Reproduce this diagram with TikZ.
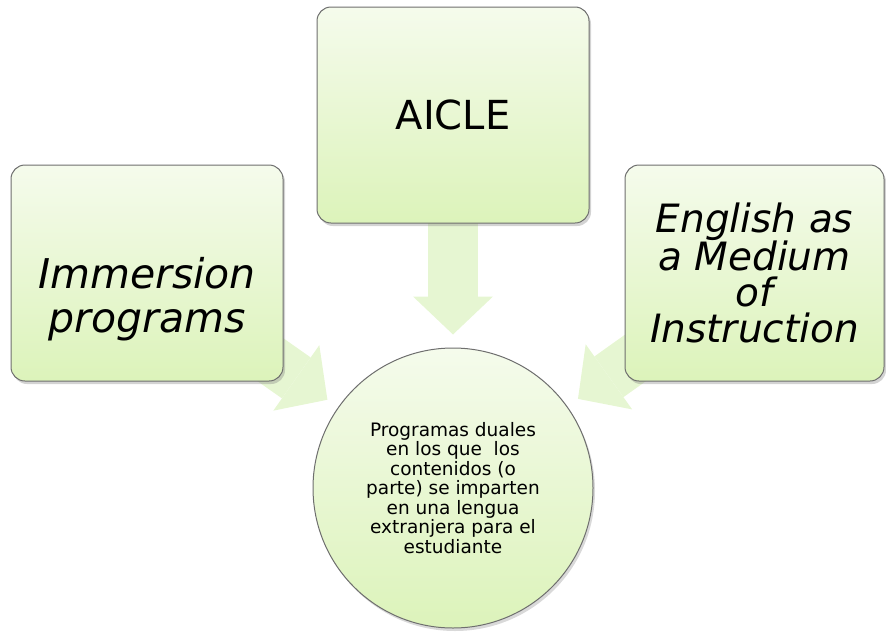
\documentclass[tikz,border=0pt]{standalone}
\usepackage{fontspec}
\setmainfont{DejaVu Sans}
\usetikzlibrary{positioning,shadows,backgrounds,arrows.meta}
\definecolor{boxtop}{RGB}{245,251,236}
\definecolor{boxbottom}{RGB}{220,243,186}
\definecolor{flowfill}{RGB}{230,246,210}
\definecolor{edgegray}{RGB}{110,110,110}
\tikzset{x=1pt, y=-1pt, % one unit is one pixel of the picture
topic/.style={draw=edgegray, line width=1pt, rounded corners=14pt, top color=boxtop, bottom color=boxbottom,
  minimum width=272pt, minimum height=216pt, align=center,
  drop shadow={opacity=0.35, shadow xshift=2pt, shadow yshift=-3pt}}, % the three boxes
hub/.style={circle, draw=edgegray, line width=1pt, top color=boxtop, bottom color=boxbottom, minimum size=280pt,
  align=center, drop shadow={opacity=0.3, shadow xshift=2pt, shadow yshift=-3pt}}, % the circle
flow/.style={draw=flowfill, line width=50pt,
  -{Triangle[width=80pt, length=38pt, line width=0pt]}, shorten >=13pt}, % the wide arrows
}

\begin{document}
\begin{tikzpicture}
\useasboundingbox (0,0) rectangle (886,632);
\node[topic, font=\fontsize{40}{44}\selectfont] (aicle) at (453,115) {AICLE};
\node[topic, font=\fontsize{41}{44}\selectfont\itshape, left=33pt of aicle, yshift=-158pt] (immersion)
  {\rule{0pt}{84pt}Immersion\\ programs};
\node[topic, font=\fontsize{39}{36}\selectfont\itshape, minimum width=259pt, right=35pt of aicle, yshift=-158pt] (emi)
  {English as\\ a Medium\\ of\\ Instruction};
\node[hub, font=\fontsize{18.5}{19.5}\selectfont, below=124pt of aicle] (dual)
  {Programas duales\\ en los que~ los\\ contenidos (o\\
   parte) se imparten\\ en una lengua\\ extranjera para el\\ estudiante};
\begin{pgfonlayer}{background}
\draw[flow] (aicle.center) -- (dual);
\draw[flow] (immersion.center) -- (dual);
\draw[flow] (emi.center) -- (dual);
\end{pgfonlayer}
\end{tikzpicture}
\end{document}
